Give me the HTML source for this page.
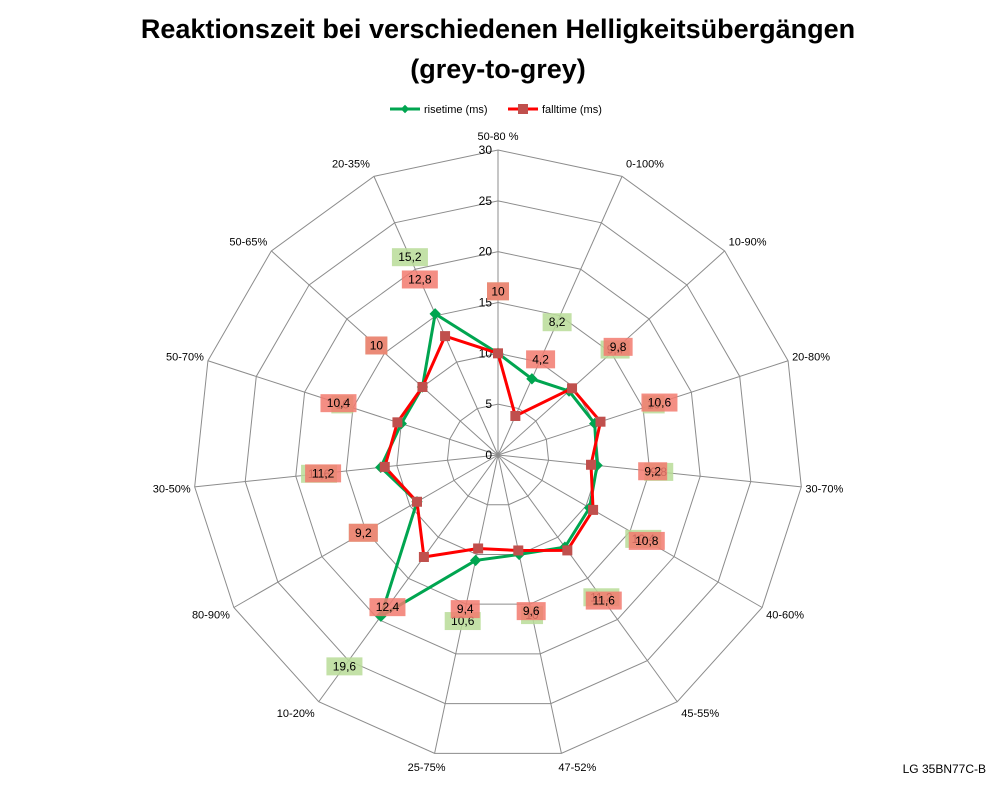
<!DOCTYPE html>
<html><head><meta charset="utf-8"><style>
body{margin:0;background:#fff;font-family:"Liberation Sans",sans-serif}
</style></head><body>
<svg width="998" height="786" xmlns="http://www.w3.org/2000/svg" font-family="Liberation Sans, sans-serif">
<text x="498" y="38" text-anchor="middle" font-size="27" font-weight="bold">Reaktionszeit bei verschiedenen Helligkeitsübergängen</text>
<text x="498" y="78" text-anchor="middle" font-size="27" font-weight="bold">(grey-to-grey)</text>
<g font-size="11">
<line x1="390" y1="109" x2="420" y2="109" stroke="#00a550" stroke-width="3"/><rect x="402" y="106" width="6" height="6" fill="#00a550" transform="rotate(45 405 109)"/>
<text x="424" y="113">risetime (ms)</text>
<line x1="508" y1="109" x2="538" y2="109" stroke="#f00" stroke-width="3"/><rect x="518" y="104" width="10" height="10" fill="#c0504d"/>
<text x="542" y="113">falltime (ms)</text>
</g>
<g id="grid"></g><g id="labels"></g><g id="series"></g><g id="dlabels"></g>
<text x="986" y="773" text-anchor="end" font-size="12">LG 35BN77C-B</text>
</svg>
<script>
const categories=["50-80 %","0-100%","10-90%","20-80%","30-70%","40-60%","45-55%","47-52%","25-75%","10-20%","80-90%","30-50%","50-70%","50-65%","20-35%"];
const rise=[10,8.2,9.4,10,9.8,10.4,11.2,10,10.6,19.6,9.2,11.6,10,10,15.2];
const fall=[10,4.2,9.8,10.6,9.2,10.8,11.6,9.6,9.4,12.4,9.2,11.2,10.4,10,12.8];
const ticks=[0,5,10,15,20,25,30];
const cx=498,cy=455,R=305,max=30,N=categories.length;
const NS="http://www.w3.org/2000/svg";
function mk(t,a,p){const e=document.createElementNS(NS,t);for(const k in a)e.setAttribute(k,a[k]);p.appendChild(e);return e;}
function pt(i,v){const a=i*2*Math.PI/N;const r=v/max*R;return [cx+r*Math.sin(a),cy-r*Math.cos(a)];}
const g=document.getElementById('grid');
ticks.slice(1).forEach(t=>{const p=categories.map((c,i)=>pt(i,t).join(',')).join(' ');
const e=mk('polygon',{points:p,fill:'none',stroke:'#8c8c8c','stroke-width':1},g);

});
categories.forEach((c,i)=>{const[x,y]=pt(i,max);const e=mk('line',{x1:cx,y1:cy,x2:x,y2:y,stroke:'#8c8c8c','stroke-width':1},g);

});
ticks.forEach(t=>{const[x,y]=pt(0,t);const e=mk('text',{x:x-6,y:y+4,'text-anchor':'end','font-size':12},g);e.textContent=t;

});
const L=document.getElementById('labels');
categories.forEach((c,i)=>{const a=i*2*Math.PI/N;const s=Math.sin(a),co=Math.cos(a);const[px,py]=pt(i,max);
let anchor='middle',x=px;if(s>0.05){anchor='start';x=px+4;}else if(s<-0.05){anchor='end';x=px+ (co<-0.9?11:-4);}
if(s>0.05&&co<-0.9)x=px-3;
const y=py-co*14+4;
const e=mk('text',{x:x,y:y,'text-anchor':anchor,'font-size':11},L);e.textContent=c;

});
const S=document.getElementById('series'),D=document.getElementById('dlabels');
function series(vals,col,name,marker,bg){
const p=vals.map((v,i)=>pt(i,v).join(',')).join(' ');
const pl=mk('polygon',{points:p,fill:'none',stroke:col,'stroke-width':3},S);


vals.forEach((v,i)=>{const[x,y]=pt(i,v);let m;
if(marker==='d'){m=mk('rect',{x:x-4,y:y-4,width:8,height:8,fill:col,transform:`rotate(45 ${x} ${y})`},S);}
else{m=mk('rect',{x:x-5,y:y-5,width:10,height:10,fill:'#c0504d'},S);}


const a=i*2*Math.PI/N,r=v/max*R+62;const lx=cx+r*Math.sin(a),ly=cy-r*Math.cos(a);
const s=String(v).replace('.',',');const w=s.length*7+8;
const b=mk('rect',{x:lx-w/2,y:ly-9,width:w,height:18,fill:bg,opacity:0.85},D);


const t=mk('text',{x:lx,y:ly+4,'text-anchor':'middle','font-size':12},D);t.textContent=s;

});}
series(rise,'#00a550','risetime','d','#b8dc98');
series(fall,'#ff0000','falltime','s','#f27a6e');
</script>
</body></html>
